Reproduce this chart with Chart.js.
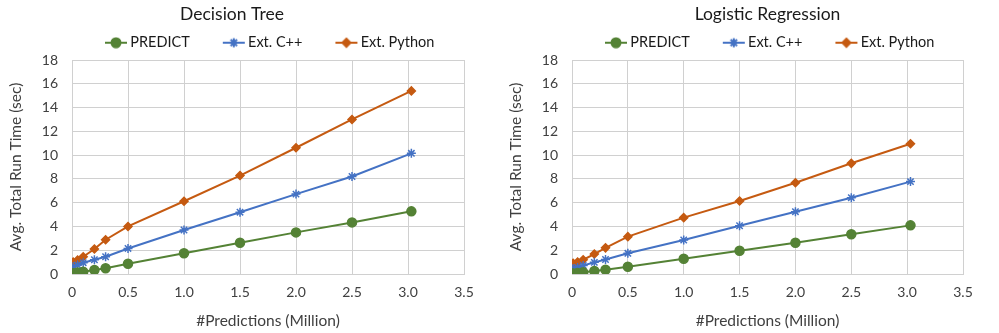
<!DOCTYPE html>
<html>
<head>
<meta charset="utf-8">
<script src="https://cdn.jsdelivr.net/npm/chart.js@4"></script>
<style>
  body { margin: 0; background: #fff; }
  .wrap { display: flex; width: 999px; height: 333px; }
  canvas { display: block; }
</style>
</head>
<body>
<div class="wrap">
  <canvas id="treeChart" width="500" height="333"></canvas>
  <canvas id="logChart" width="499" height="333"></canvas>
</div>
<script>
// data
const predictions = [0.001, 0.01, 0.05, 0.1, 0.2, 0.3, 0.5, 1, 1.5, 2, 2.5, 3.03];
const seriesNames = ['PREDICT', 'Ext. C++', 'Ext. Python'];

const treePredict = [0.02, 0.06, 0.12, 0.19, 0.34, 0.48, 0.86, 1.74, 2.63, 3.5, 4.34, 5.27];
const treeCpp = [0.45, 0.6, 0.75, 0.95, 1.2, 1.45, 2.15, 3.7, 5.2, 6.72, 8.2, 10.15];
const treePython = [0.82, 1.0, 1.18, 1.45, 2.1, 2.88, 4.0, 6.12, 8.28, 10.62, 13.0, 15.4];

const logPredict = [0.02, 0.05, 0.09, 0.14, 0.25, 0.36, 0.61, 1.29, 1.96, 2.63, 3.34, 4.09];
const logCpp = [0.4, 0.45, 0.55, 0.72, 0.98, 1.22, 1.74, 2.86, 4.06, 5.24, 6.42, 7.77];
const logPython = [0.8, 0.9, 1.0, 1.2, 1.68, 2.2, 3.14, 4.74, 6.14, 7.68, 9.31, 10.96];

const xTicks = [0, 0.5, 1, 1.5, 2, 2.5, 3, 3.5];
const yTicks = [0, 2, 4, 6, 8, 10, 12, 14, 16, 18];

const colors = ['#548235', '#4472C4', '#C55A11'];
const markers = ['circle', 'star', 'rectRot'];
const markerSize = [4.5, 4.5, 4];

const FONT = 'Lato, "Open Sans", sans-serif';

// legend symbol: short line with the marker, drawn in the right half of the image
const legendIcon = (i) => {
  const c = document.createElement('canvas');
  c.width = 46; c.height = 12;
  const ctx = c.getContext('2d');
  ctx.strokeStyle = colors[i];
  ctx.fillStyle = colors[i];
  ctx.lineWidth = 2;
  ctx.beginPath(); ctx.moveTo(23, 6); ctx.lineTo(45, 6); ctx.stroke();
  Chart.helpers.drawPoint(ctx, {pointStyle: markers[i], radius: markerSize[i], borderWidth: 1.5}, 34, 6);
  return c;
};

const makeSets = (vals) => vals.map((v, i) => ({
  label: seriesNames[i],
  data: predictions.map((x, k) => ({x: x, y: v[k]})),
  borderColor: colors[i],
  backgroundColor: colors[i],
  borderWidth: 2,
  pointStyle: markers[i],
  pointRadius: markerSize[i],
  pointBorderWidth: 1.5,
  pointHoverRadius: markerSize[i],
  tension: 0
}));

const makeChart = (id, title, vals, titleFull) => new Chart(document.getElementById(id), {
  type: 'line',
  data: { datasets: makeSets(vals) },
  options: {
    responsive: false,
    animation: false,
    layout: { padding: { left: 0, right: 36, top: 0, bottom: 0 } },
    plugins: {
      title: {
        display: true,
        text: title,
        color: '#1a1a1a',
        font: { family: FONT, size: 17.5, weight: 'normal', lineHeight: 1 },
        padding: { top: 6, bottom: -3 },
        fullSize: titleFull
      },
      legend: {
        fullSize: false,
        align: 'start',
        labels: {
          usePointStyle: true,
          pointStyleWidth: 36,
          padding: 15,
          color: '#1a1a1a',
          font: { family: FONT, size: 14.5 },
          generateLabels: (chart) => seriesNames.map((n, i) => ({
            text: n, pointStyle: legendIcon(i), datasetIndex: i,
            fontColor: '#1a1a1a', lineWidth: 0, strokeStyle: 'transparent', fillStyle: colors[i]
          }))
        }
      },
      tooltip: { enabled: false }
    },
    scales: {
      x: {
        type: 'linear',
        min: 0, max: 3.5,
        afterBuildTicks: (s) => { s.ticks = xTicks.map(v => ({value: v})); },
        afterFit: (s) => { s.height = 59; },
        ticks: { color: '#404040', font: { family: FONT, size: 14 }, padding: 10, maxRotation: 0 },
        grid: { color: '#d0d0d0', drawTicks: false },
        border: { color: '#d0d0d0' },
        title: {
          display: true, text: '#Predictions (Million)', color: '#404040',
          font: { family: FONT, size: 15.5 }, padding: { top: 4, bottom: 3 }
        }
      },
      y: {
        min: 0, max: 18,
        afterBuildTicks: (s) => { s.ticks = yTicks.map(v => ({value: v})); },
        afterFit: (s) => { s.width = 72; },
        ticks: { color: '#404040', font: { family: FONT, size: 14 }, padding: 14 },
        grid: { color: '#d0d0d0', drawTicks: false },
        border: { color: '#d0d0d0' },
        title: {
          display: true, text: 'Avg. Total Run Time (sec)', color: '#404040',
          font: { family: FONT, size: 15.5 }, padding: { top: 7, bottom: 4 }
        }
      }
    }
  }
});

makeChart('treeChart', 'Decision Tree', [treePredict, treeCpp, treePython], true);
makeChart('logChart', 'Logistic Regression', [logPredict, logCpp, logPython], false);
</script>
</body>
</html>
